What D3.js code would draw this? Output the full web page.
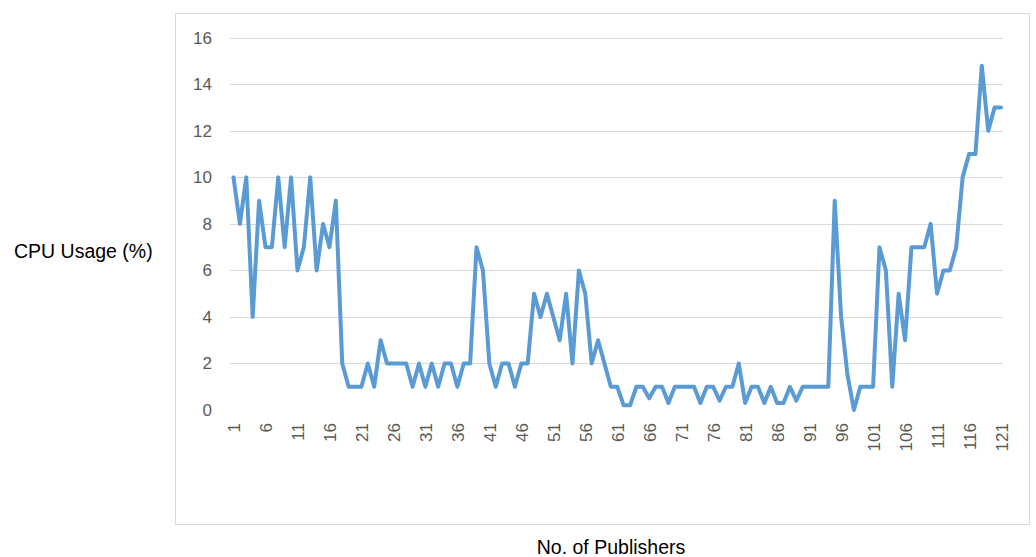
<!DOCTYPE html>
<html>
<head>
<meta charset="utf-8">
<script src="https://cdn.jsdelivr.net/npm/d3@7"></script>
<style>
  body { margin: 0; background: #fff; }
  svg { display: block; }
  text { font-family: "Liberation Sans", Arial, sans-serif; }
</style>
</head>
<body>
<svg width="1036" height="557"></svg>
<script>
// cpu usage per publisher count
const cpuUsage = [
  10, 8, 10, 4, 9, 7, 7, 10, 7, 10,
  6, 7, 10, 6, 8, 7, 9, 2, 1, 1,
  1, 2, 1, 3, 2, 2, 2, 2, 1, 2,
  1, 2, 1, 2, 2, 1, 2, 2, 7, 6,
  2, 1, 2, 2, 1, 2, 2, 5, 4, 5,
  4, 3, 5, 2, 6, 5, 2, 3, 2, 1,
  1, 0.2, 0.2, 1, 1, 0.5, 1, 1, 0.3, 1,
  1, 1, 1, 0.3, 1, 1, 0.4, 1, 1, 2,
  0.3, 1, 1, 0.3, 1, 0.3, 0.3, 1, 0.4, 1,
  1, 1, 1, 1, 9, 4, 1.5, 0, 1, 1,
  1, 7, 6, 1, 5, 3, 7, 7, 7, 8,
  5, 6, 6, 7, 10, 11, 11, 14.8, 12, 13,
  13
]
const publishers = cpuUsage.map((d, i) => i + 1)
const xTickLabels = [1, 6, 11, 16, 21, 26, 31, 36, 41, 46, 51, 56, 61, 66, 71, 76, 81, 86, 91, 96, 101, 106, 111, 116, 121]
const yTicks = [0, 2, 4, 6, 8, 10, 12, 14, 16]

const svg = d3.select("svg")

// chart frame
svg.append("rect")
  .attr("x", 175.5).attr("y", 13.5)
  .attr("width", 854).attr("height", 511)
  .attr("fill", "#fff")
  .attr("stroke", "#d9d9d9")
  .attr("stroke-width", 1)

let x = d3.scaleLinear().domain([1, 121]).range([233.5, 1001])
let y = d3.scaleLinear().domain([0, 16]).range([410, 37.8])

// gridlines (none at 0)
svg.append("g")
  .selectAll("line")
  .data(yTicks.filter(d => d > 0))
  .join("line")
  .attr("x1", 230).attr("x2", 1003)
  .attr("y1", d => Math.round(y(d)) + 0.5)
  .attr("y2", d => Math.round(y(d)) + 0.5)
  .attr("stroke", "#d9d9d9")
  .attr("stroke-width", 1)

// y labels
svg.append("g")
  .selectAll("text")
  .data(yTicks)
  .join("text")
  .attr("x", 212)
  .attr("y", d => y(d))
  .attr("dy", "0.35em")
  .attr("text-anchor", "end")
  .attr("fill", "#595959")
  .style("font-size", "17px")
  .text(d => d)

// x labels, rotated
svg.append("g")
  .selectAll("text")
  .data(xTickLabels)
  .join("text")
  .attr("transform", d => `translate(${x(d) + 6.5},423) rotate(-90)`)
  .attr("text-anchor", "end")
  .attr("fill", "#595959")
  .style("font-size", "17px")
  .text(d => d)

const line = d3.line()
  .x((d, i) => x(publishers[i]))
  .y(d => y(d))

svg.append("path")
  .datum(cpuUsage)
  .attr("d", line)
  .attr("fill", "none")
  .attr("stroke", "#5b9bd5")
  .attr("stroke-width", 4)
  .attr("stroke-linejoin", "round")
  .attr("stroke-linecap", "round")

// axis titles
svg.append("text")
  .attr("x", 14).attr("y", 258)
  .attr("fill", "#000")
  .style("font-size", "19.5px")
  .text("CPU Usage (%)")

svg.append("text")
  .attr("x", 611).attr("y", 554)
  .attr("text-anchor", "middle")
  .attr("fill", "#000")
  .style("font-size", "19.5px")
  .text("No. of Publishers")
</script>
</body>
</html>
